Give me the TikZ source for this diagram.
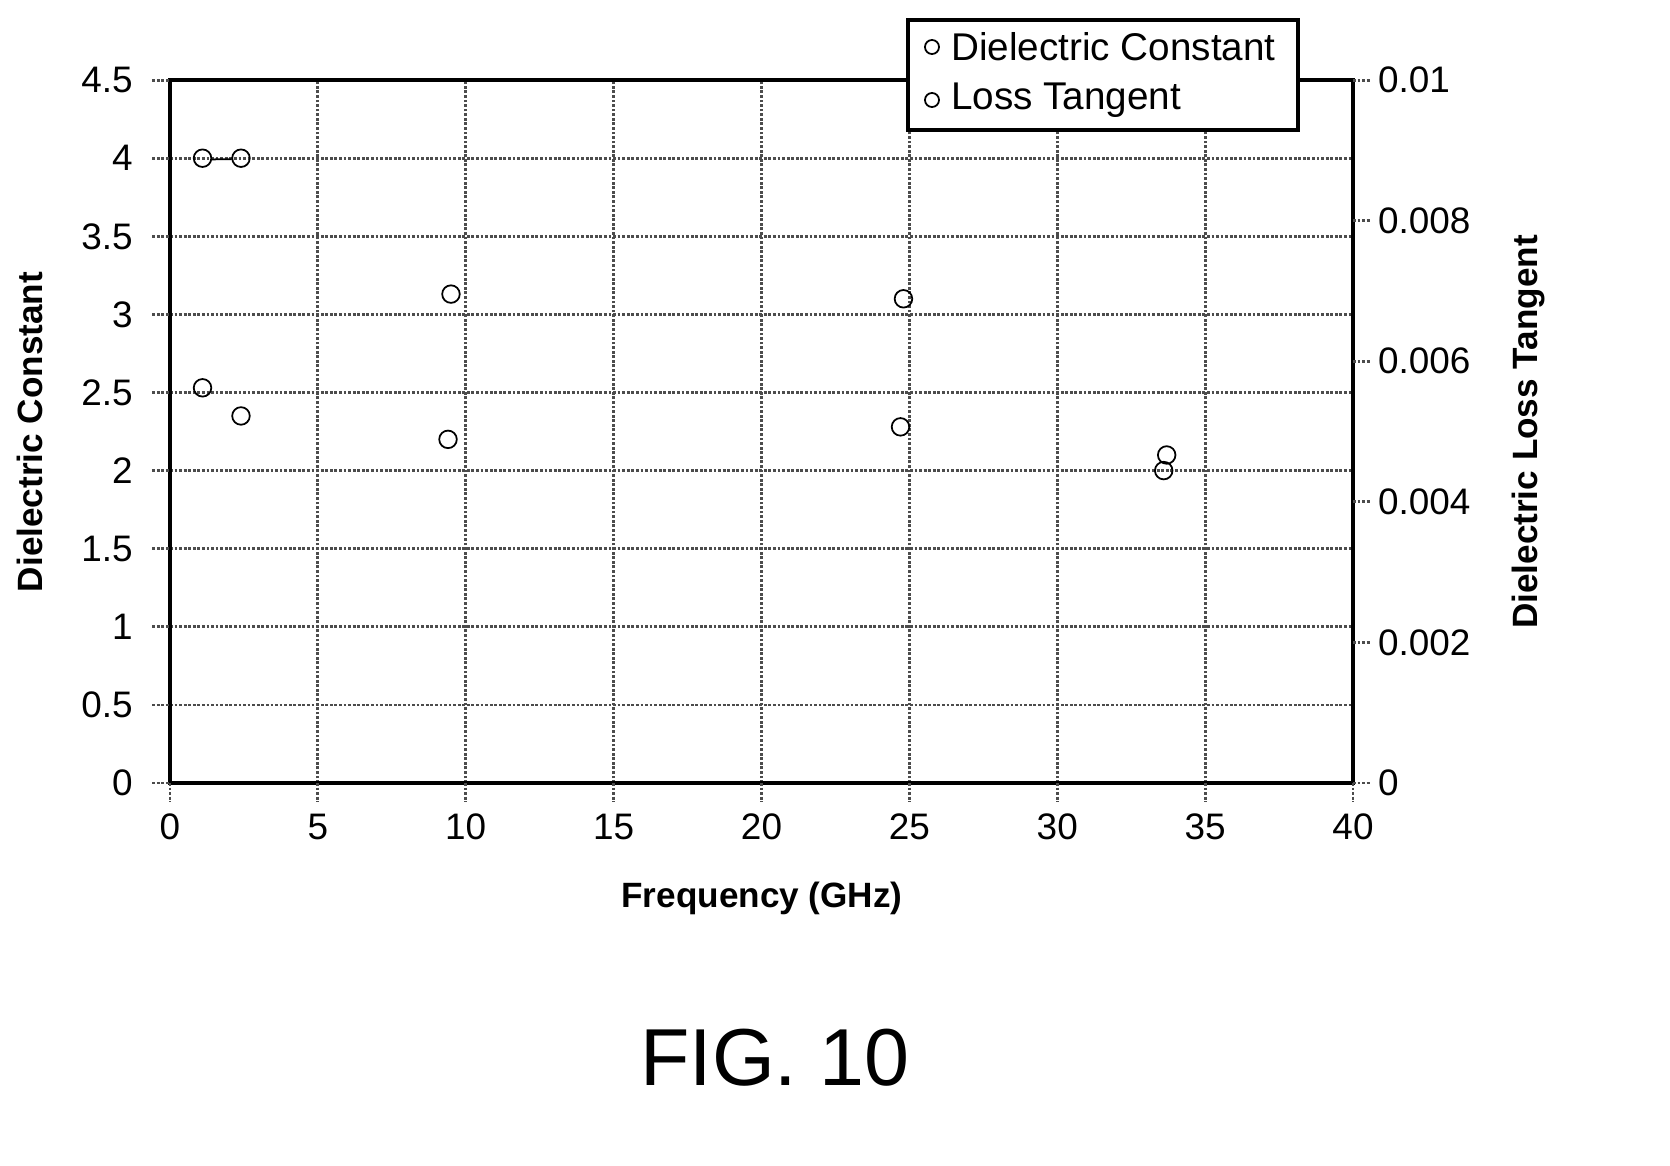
\documentclass[tikz,border=0pt]{standalone}
\usepackage{fontspec}
\setmainfont{Liberation Sans}
\usetikzlibrary{positioning}
\tikzset{
  gridline/.style={densely dotted, line width=1.6pt, black!70},
  frameline/.style={line width=2.4pt},
  dcpoint/.style={circle, draw, line width=1pt, inner sep=0pt, minimum size=10pt},
  ltpoint/.style={circle, draw, line width=1pt, inner sep=0pt, minimum size=10pt},
  ticklabel/.style={text=black, font=\fontsize{21}{23}\selectfont},
  axislabel/.style={font=\bfseries\fontsize{20}{22}\selectfont}
}
\begin{document}
\begin{tikzpicture}[x=0.02cm, y=-0.02cm]
        \useasboundingbox (0, 0) rectangle (1670, 1166);
        \begin{scope}[shift={(170, 783)}, xscale=29.575, yscale=-156.2]
                % grid
                \foreach \y in {0.5, 1, ..., 4.0}
                        \draw[gridline] (0, \y) -- (40, \y);
                \foreach \x in {5, 10, ..., 35}
                        \draw[gridline] (\x, 0) -- (\x, 4.5);
                \draw[frameline] (0, 0) rectangle (40, 4.5);
                % left ticks
                \foreach \y/\ytext in {0/0, 0.5/0.5, 1/1, 1.5/1.5, 2/2, 2.5/2.5, 3/3, 3.5/3.5, 4/4, 4.5/4.5}
                        \draw[gridline] (-0.6, \y) -- (0, \y) node [ticklabel, anchor=east, xshift=-0.6cm] {\ytext};
                % right ticks
                \foreach \y/\ytext in {0/0, 0.9/0.002, 1.8/0.004, 2.7/0.006, 3.6/0.008, 4.5/0.01}
                        \draw[gridline] (40, \y) -- (40.6, \y) node [ticklabel, anchor=west] {\ytext};
                % bottom ticks
                \foreach \x in {0, 5, ..., 40}
                        \draw[gridline] (\x, 0) -- (\x, -0.12) node [ticklabel, anchor=north, yshift=-0.1cm] {\x};
                % dielectric constant
                \node[dcpoint] (d1) at (1.1, 4.0) {};
                \node[dcpoint] (d2) at (2.4, 4.0) {};
                \node[dcpoint] (d3) at (9.5, 3.13) {};
                \node[dcpoint] (d4) at (24.8, 3.1) {};
                \node[dcpoint] (d5) at (33.7, 2.1) {};
                \draw[line width=1pt] (d1) -- (d2);
                % loss tangent
                \node[ltpoint] (l1) at (1.1, 2.53) {};
                \node[ltpoint] (l2) at (2.4, 2.35) {};
                \node[ltpoint] (l3) at (9.4, 2.2) {};
                \node[ltpoint] (l4) at (24.7, 2.28) {};
                \node[ltpoint] (l5) at (33.6, 2.0) {};
        \end{scope}
        % axis titles
        \node[axislabel] (xlab) at (762, 898) {Frequency (GHz)};
        \node[axislabel, rotate=90] (ylab) at (30, 432) {Dielectric Constant};
        \node[axislabel, rotate=90] (y2lab) at (1528, 432) {Dielectric Loss Tangent};
        % legend
        \draw[line width=2pt, fill=white] (908, 20) rectangle (1298, 130);
        \node[dcpoint, minimum size=8pt] (leg1) at (932, 47) {};
        \node[ltpoint, minimum size=8pt] (leg2) at (932, 100) {};
        \node[ticklabel, anchor=west, font=\fontsize{22}{24}\selectfont] (legt1) at (945, 47) {Dielectric Constant};
        \node[ticklabel, anchor=west, font=\fontsize{22}{24}\selectfont] (legt2) at (945, 100) {Loss Tangent};
        % figure label
        \node[font=\fontsize{46}{50}\selectfont] (fig) at (775, 1058) {FIG. 10};
\end{tikzpicture}
\end{document}
